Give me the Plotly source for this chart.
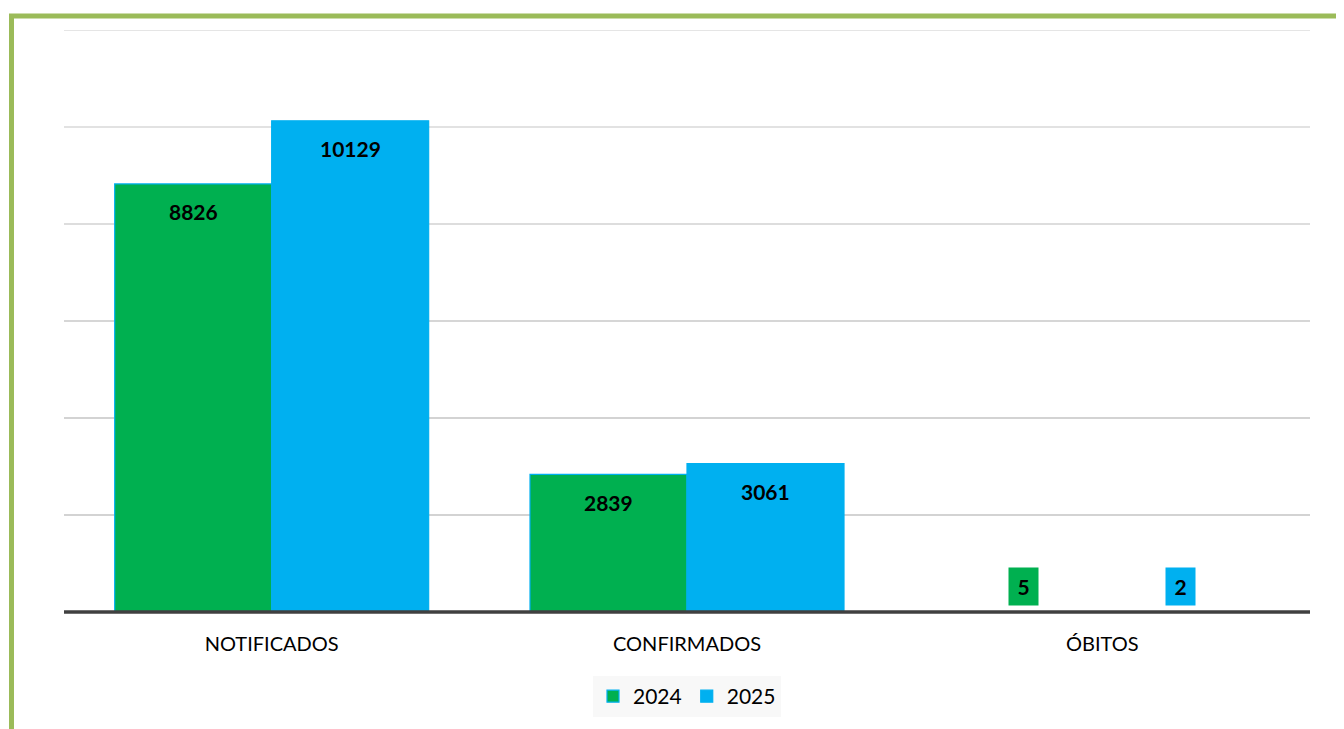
import plotly.graph_objects as go

categories = ["NOTIFICADOS", "CONFIRMADOS", "ÓBITOS"]
series_names = ["2024", "2025"]
values_2024 = [8826, 2839, 5]
values_2025 = [10129, 3061, 2]
grid_values = [2000, 4000, 6000, 8000, 10000, 12000]

GREEN = "#00B050"
BLUE = "#00B0F0"
FONT = "Lato, 'Open Sans', sans-serif"

x_idx = list(range(len(categories)))
bw = 0.378

fig = go.Figure()
fig.add_trace(go.Bar(
    x=x_idx, y=values_2024, name=series_names[0], width=bw, offset=-bw,
    marker=dict(color=GREEN, line=dict(color=BLUE, width=1.2)),
))
fig.add_trace(go.Bar(
    x=x_idx, y=values_2025, name=series_names[1], width=bw, offset=0,
    marker=dict(color=BLUE, line=dict(color=BLUE, width=1.2)),
))

annotations = []
for vals, sign, col in [(values_2024, -1, GREEN), (values_2025, 1, BLUE)]:
    for i, v in enumerate(vals):
        small = v < 500
        annotations.append(dict(
            x=i + sign * bw / 2, y=v, xref="x", yref="y",
            text=f"<b>{v}</b>", showarrow=False,
            font=dict(family=FONT, size=21, color="black"),
            yshift=(25 if small else -28),
            bgcolor=(col if small else None),
            width=(21 if small else None), height=(29 if small else None),
            borderpad=4 if small else 0,
        ))

shapes = []
grid_colors = ["#C4C4C4", "#C4C4C4", "#C8C8C8", "#D2D2D2", "#D9D9D9", "#DDDDDD"]
for gv, gc in zip(grid_values, grid_colors):
    shapes.append(dict(type="line", xref="paper", yref="y", x0=0, x1=1, y0=gv, y1=gv,
                       line=dict(color=gc, width=1.5), layer="below"))
# baseline
shapes.append(dict(type="line", xref="paper", yref="paper", x0=0, x1=1, y0=0, y1=0,
                   line=dict(color="#404040", width=3.5), layer="above"))
# outer green frame
shapes.append(dict(type="rect", xref="paper", yref="paper",
                   x0=(11.5 - 64) / 1246, x1=1.2, y0=-0.5, y1=(612 - 16) / 582,
                   line=dict(color="#9BBB59", width=5), fillcolor="rgba(0,0,0,0)"))

fig.update_layout(
    width=1336, height=721,
    margin=dict(l=56, r=34, t=22, b=117),
    paper_bgcolor="white", plot_bgcolor="white",
    font=dict(family=FONT, size=20, color="black"),
    barmode="overlay",
    showlegend=True,
    legend=dict(orientation="h", x=0.5, xanchor="center", y=-0.11, yanchor="top",
                bgcolor="#F8F8F8", font=dict(family=FONT, size=21),
                itemwidth=30, traceorder="normal"),
    xaxis=dict(tickmode="array", tickvals=x_idx, ticktext=categories,
               range=[-0.5, 2.5], showgrid=False, zeroline=False, ticks="",
               showline=False, ticklabelstandoff=18,
               tickfont=dict(family=FONT, size=20)),
    yaxis=dict(range=[0, 12000], showgrid=False, zeroline=False,
               showticklabels=False, showline=False),
    annotations=annotations,
    shapes=shapes,
)

fig.write_html("out.html")
